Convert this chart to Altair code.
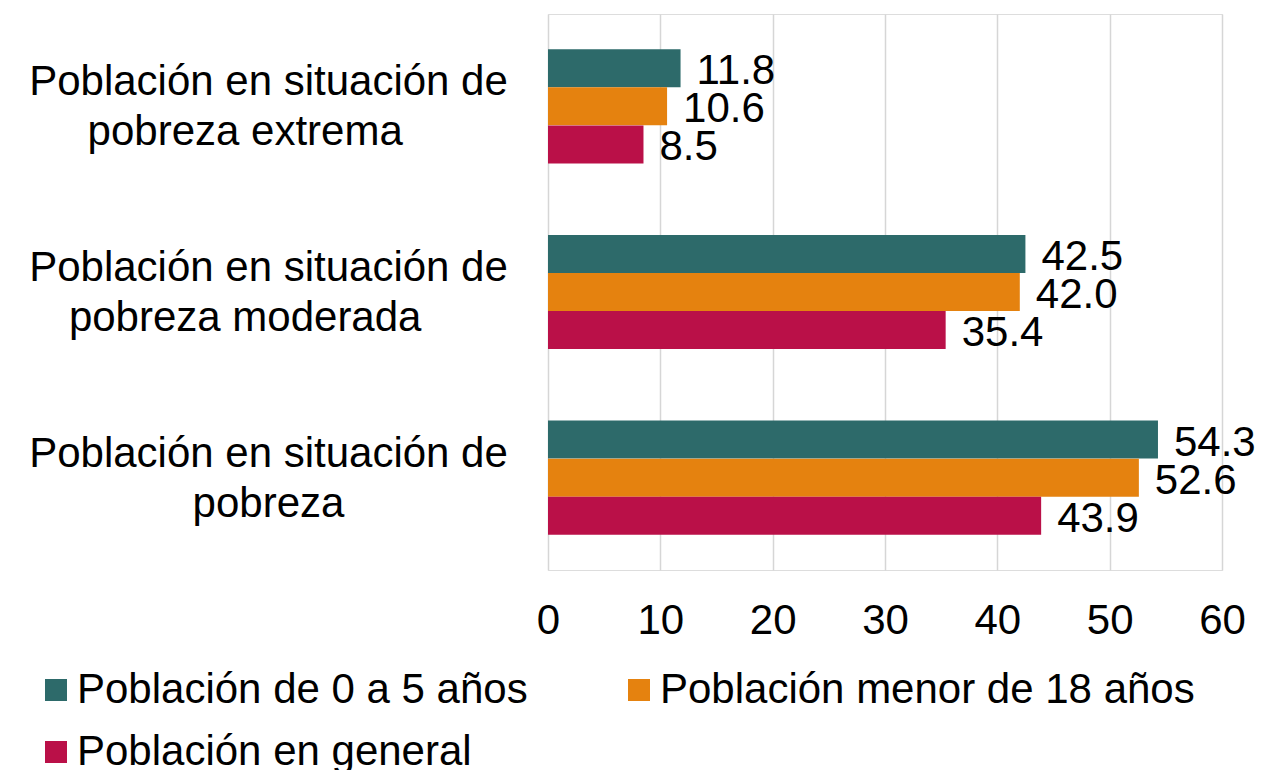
import altair as alt
import pandas as pd

categories = [
    "Población en situación de|pobreza extrema\u00a0\u00a0\u00a0\u00a0\u200b",
    "Población en situación de|pobreza moderada\u00a0\u00a0\u00a0\u00a0\u200b",
    "Población en situación de|pobreza",
]
series = ["Población de 0 a 5 años", "Población menor de 18 años", "Población en general"]
colors = ["#2D6A6A", "#E5820F", "#BA1048"]
vals_0a5 = [11.8, 42.5, 54.3]
vals_menor18 = [10.6, 42.0, 52.6]
vals_general = [8.5, 35.4, 43.9]
x_ticks = [0, 10, 20, 30, 40, 50, 60]

rows = []
for s, vals in zip(series, [vals_0a5, vals_menor18, vals_general]):
    for c, v in zip(categories, vals):
        rows.append({"cat": c, "serie": s, "valor": v})
df = pd.DataFrame(rows)

FONT = "Liberation Sans"

y_enc = alt.Y(
    "cat:N",
    sort=categories,
    title=None,
    scale=alt.Scale(paddingInner=0.385, paddingOuter=0.19),
    axis=alt.Axis(
        domain=False, ticks=False, grid=False,
        labelExpr="split(datum.label, '|')",
        labelAlign="center", labelBaseline="middle",
        labelPadding=280, labelFontSize=42, labelFont=FONT,
        labelColor="#000000", labelLineHeight=50, labelLimit=0,
        labelOffset=-24,
    ),
)
yoff = alt.YOffset("serie:N", sort=series, scale=alt.Scale(paddingInner=0, paddingOuter=0))
x_enc = alt.X(
    "valor:Q",
    title=None,
    scale=alt.Scale(domain=[0, 60], nice=False),
    axis=alt.Axis(
        values=x_ticks, domain=False, ticks=False,
        grid=True, gridColor="#D6D6D6", gridWidth=1.5,
        labelFontSize=42, labelFont=FONT, labelColor="#000000",
        labelPadding=30, format="d", labelFlush=False,
    ),
)

bars = alt.Chart(df).mark_bar(size=38).encode(
    y=y_enc,
    yOffset=yoff,
    x=x_enc,
    color=alt.Color(
        "serie:N",
        sort=series,
        scale=alt.Scale(domain=series, range=colors),
        legend=alt.Legend(
            title=None, orient="none", legendX=-513, legendY=655,
            direction="horizontal", columns=2, columnPadding=90, rowPadding=20,
            symbolType="square", symbolSize=484, symbolStrokeWidth=0,
            labelFontSize=42, labelFont=FONT, labelColor="#000000",
            labelOffset=0, labelLimit=0,
        ),
    ),
)

labels = alt.Chart(df).mark_text(
    align="left", baseline="middle", dx=16, dy=3,
    fontSize=42, font=FONT, color="#000000",
).encode(
    y=alt.Y("cat:N", sort=categories),
    yOffset=yoff,
    x="valor:Q",
    text=alt.Text("valor:Q", format=".1f"),
)

chart = (bars + labels).properties(
    width=674, height=556,
    autosize=alt.AutoSizeParams(type="none"),
    padding={"left": 540, "top": 6, "right": 50, "bottom": 200},
).configure_view(stroke=None).configure(background="#FFFFFF")

chart.save("out.html", embed_options={"renderer": "svg", "actions": False})
